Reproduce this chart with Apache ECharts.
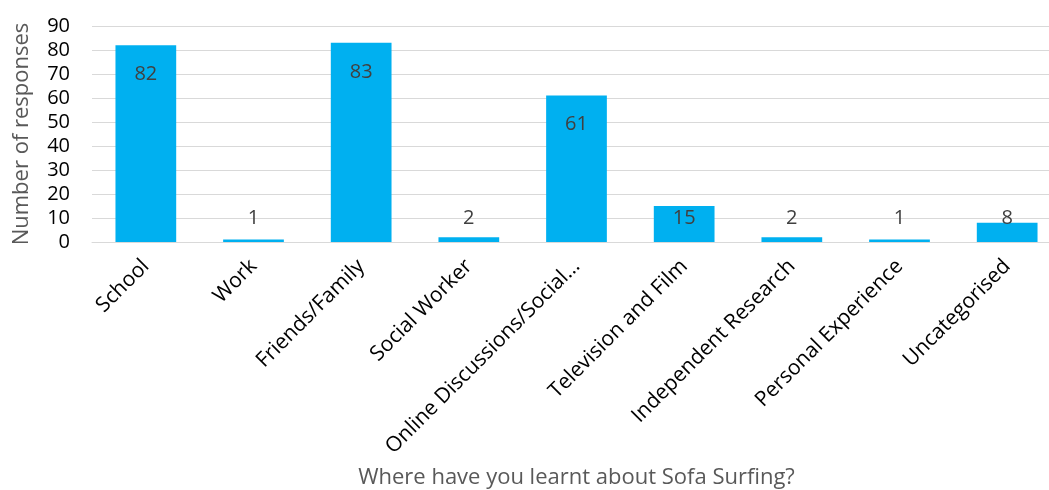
<!DOCTYPE html>
<html><head><meta charset="utf-8">
<script src="https://cdn.jsdelivr.net/npm/echarts@6/dist/echarts.min.js"></script>
<style>html,body{margin:0;padding:0;background:#fff}#c{width:1049px;height:490px}</style>
</head><body><div id="c"></div>
<script>
const categories = ['School','Work','Friends/Family','Social Worker','Online Discussions/Social…','Television and Film','Independent Research','Personal Experience','Uncategorised'];
const responses = [82,1,83,2,61,15,2,1,8];
const yTicks = {min:0, max:90, interval:10};
const FONT = 'Open Sans';
const chart = echarts.init(document.getElementById('c'));
const data = responses.map(v => ({
  value: v,
  label: v >= 20 ? {position:'insideTop', distance:19} : {position:'insideBottom', distance:14}
}));
chart.setOption({
  animation:false,
  textStyle:{fontFamily:FONT},
  grid:{left:92,right:-12,top:26,bottom:248,containLabel:false,outerBoundsMode:'none'},
  xAxis:{
    type:'category', data:categories,
    axisLine:{lineStyle:{color:'#d9d9d9',width:1}},
    axisTick:{show:false},
    axisLabel:{rotate:45,interval:0,color:'#000',fontSize:21,fontFamily:FONT,margin:21},
    name:'Where have you learnt about Sofa Surfing?',
    nameLocation:'middle', nameGap:225,
    nameTextStyle:{color:'#595959',fontSize:22,fontFamily:FONT}
  },
  yAxis:{
    type:'value', min:yTicks.min, max:yTicks.max, interval:yTicks.interval,
    splitLine:{lineStyle:{color:'#d9d9d9',width:1}},
    axisLine:{show:false}, axisTick:{show:false},
    axisLabel:{color:'#000',fontSize:20,fontFamily:FONT,margin:22},
    name:'Number of responses', nameLocation:'middle', nameGap:59,
    nameTextStyle:{color:'#595959',fontSize:22,fontFamily:FONT}
  },
  series:[{
    type:'bar', data:data, barCategoryGap:'43.6%',
    itemStyle:{color:'#00b0f0'},
    label:{show:true,color:'#404040',fontSize:20,fontFamily:FONT}
  }]
});
</script></body></html>
